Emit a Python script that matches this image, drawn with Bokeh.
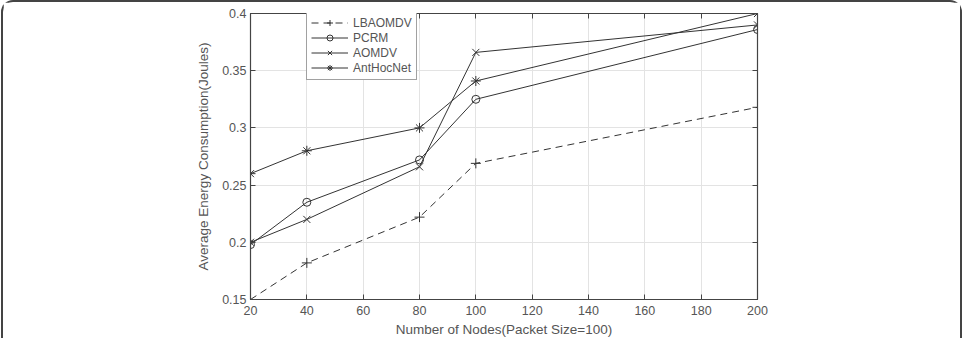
from bokeh.plotting import figure
from bokeh.models import (LinearAxis, FixedTicker, Legend, LegendItem,
                          CustomJSTickFormatter)
from bokeh.embed import file_html
from bokeh.resources import INLINE

# Average energy consumption per routing protocol vs. network size
nodes = [20, 40, 80, 100, 200]
lbaomdv = [0.150, 0.182, 0.222, 0.269, 0.318]
pcrm = [0.198, 0.235, 0.272, 0.325, 0.386]
aomdv = [0.200, 0.220, 0.266, 0.366, 0.390]
anthocnet = [0.260, 0.280, 0.300, 0.341, 0.400]

x_ticks = [20, 40, 60, 80, 100, 120, 140, 160, 180, 200]
y_ticks = [0.15, 0.2, 0.25, 0.3, 0.35, 0.4]

FONT = "Liberation Sans"
TXT = "#555555"
INK = "#333333"

p = figure(width=961, height=338, x_range=(20, 200), y_range=(0.15, 0.4),
           output_backend="svg", toolbar_location=None,
           min_border_left=247, min_border_right=207,
           min_border_top=11, min_border_bottom=41)
p.outline_line_color = "#444444"
p.outline_line_width = 1.2
p.background_fill_color = "white"
p.border_fill_color = "white"
# rounded frame around the whole figure (open at the bottom)
p.styles = {"margin-left": "1px", "border": "2px solid #444444",
            "border-bottom": "none", "border-radius": "12px 12px 0 0",
            "background": "white"}

for ax in (p.xaxis[0], p.yaxis[0]):
    ax.major_label_text_font = FONT
    ax.major_label_text_font_size = "12.5px"
    ax.major_label_text_color = TXT
    ax.axis_label_text_font = FONT
    ax.axis_label_text_font_size = "13.5px"
    ax.axis_label_text_font_style = "normal"
    ax.axis_label_text_color = TXT
    ax.major_tick_in = 5
    ax.major_tick_out = 0
    ax.minor_tick_line_color = None
    ax.axis_line_color = "#444444"
    ax.major_tick_line_color = "#444444"

p.xaxis.ticker = FixedTicker(ticks=x_ticks)
p.yaxis.ticker = FixedTicker(ticks=y_ticks)
p.yaxis.formatter = CustomJSTickFormatter(code="return String(Number(tick.toFixed(2)));")
p.xaxis.axis_label = "Number of Nodes(Packet Size=100)"
p.yaxis.axis_label = "Average Energy Consumption(Joules)"
p.xaxis.axis_label_standoff = 4
p.yaxis.axis_label_standoff = 8
p.xaxis.major_label_standoff = 6
p.yaxis.major_label_standoff = 4

# mirrored axes on top and right, ticks only
for side, tk in (("above", x_ticks), ("right", y_ticks)):
    a = LinearAxis(ticker=FixedTicker(ticks=tk),
                   formatter=CustomJSTickFormatter(code="return '';"),
                   major_tick_in=5, major_tick_out=0, minor_tick_line_color=None,
                   axis_line_color="#444444", major_tick_line_color="#444444")
    p.add_layout(a, side)

p.grid.grid_line_color = "#e3e3e3"
p.grid.grid_line_width = 1
p.xgrid.ticker = FixedTicker(ticks=x_ticks)
p.ygrid.ticker = FixedTicker(ticks=y_ticks)

r1 = p.line(nodes, lbaomdv, line_color=INK, line_width=1, line_dash="7 5")
m1 = p.scatter(nodes, lbaomdv, marker="cross", size=10, line_color=INK, fill_color=None)
r2 = p.line(nodes, pcrm, line_color=INK, line_width=1)
m2 = p.scatter(nodes, pcrm, marker="circle", size=8, line_color=INK, fill_color=None)
r3 = p.line(nodes, aomdv, line_color=INK, line_width=1)
m3 = p.scatter(nodes, aomdv, marker="x", size=10, line_color=INK, fill_color=None)
r4 = p.line(nodes, anthocnet, line_color=INK, line_width=1)
m4 = p.scatter(nodes, anthocnet, marker="asterisk", size=10, line_color=INK, fill_color=None)

legend = Legend(items=[
    LegendItem(label="LBAOMDV", renderers=[r1, m1]),
    LegendItem(label="PCRM", renderers=[r2, m2]),
    LegendItem(label="AOMDV", renderers=[r3, m3]),
    LegendItem(label="AntHocNet", renderers=[r4, m4]),
], location=(56, 219))
legend.label_text_font = FONT
legend.label_text_font_size = "12px"
legend.label_text_color = TXT
legend.glyph_width = 37
legend.glyph_height = 15
legend.label_height = 15
legend.label_standoff = 5
legend.spacing = 0
legend.padding = 4
legend.margin = 0
legend.border_line_color = "#444444"
legend.border_line_width = 1
legend.background_fill_alpha = 1
p.add_layout(legend, "center")

open("out.html", "w").write(file_html(p, INLINE))
